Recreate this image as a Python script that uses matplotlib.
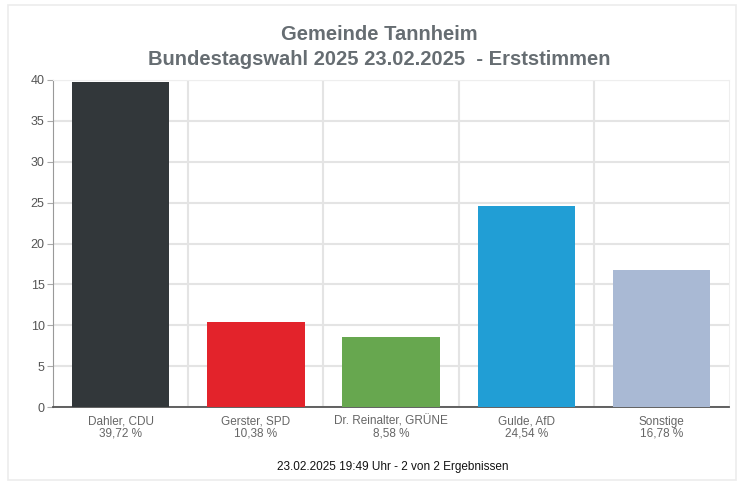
import matplotlib.pyplot as plt
from matplotlib.patches import Rectangle

candidates = ["Dahler, CDU", "Gerster, SPD", "Dr. Reinalter, GRÜNE", "Gulde, AfD", "Sonstige"]
shares = [39.72, 10.38, 8.58, 24.54, 16.78]
share_labels = ["39,72 %", "10,38 %", "8,58 %", "24,54 %", "16,78 %"]
colors = ["#32373a", "#e3232b", "#67a74f", "#219ed5", "#a9b9d4"]
yticks = [0, 5, 10, 15, 20, 25, 30, 35, 40]

fig = plt.figure(figsize=(7.39, 4.9), dpi=100)
fig.patches.append(Rectangle((0.011, 0.02), 0.985, 0.97, transform=fig.transFigure,
                             fill=False, edgecolor="#ececec", linewidth=1.2))
ax = fig.add_axes([0.0717, 0.169, 0.915, 0.668])

x = list(range(len(candidates)))
ax.bar(x, shares, width=0.72, color=colors, zorder=3)

ax.set_xlim(-0.5, len(candidates) - 0.5)
ax.set_ylim(0, 40)
ax.set_yticks(yticks)
ax.set_yticklabels([str(t) for t in yticks], fontsize=9, color="#555555", family="Liberation Sans")
ax.set_xticks([i + 0.5 for i in x[:-1]], minor=True)
ax.set_xticks(x)
ax.set_xticklabels([f"{c}\n{s}" for c, s in zip(candidates, share_labels)],
                   fontsize=8.5, color="#666666", family="Liberation Sans", linespacing=1.0)
ax.tick_params(axis="x", which="major", length=0, pad=6)
ax.tick_params(axis="x", which="minor", length=0)
ax.tick_params(axis="y", length=4, color="#aaaaaa", pad=2)

ax.grid(True, axis="y", color="#e4e4e4", linewidth=1.5, zorder=0)
ax.grid(True, axis="x", which="minor", color="#e4e4e4", linewidth=1.5, zorder=0)

for side in ["top", "right"]:
    ax.spines[side].set_color("#eeeeee")
ax.spines["left"].set_color("#999999")
ax.spines["bottom"].set_color("#555555")
ax.spines["bottom"].set_linewidth(1.3)

fig.text(0.513, 0.929, "Gemeinde Tannheim", ha="center", va="center", fontsize=14.5,
         fontweight="bold", color="#666d72", family="Liberation Sans")
fig.text(0.513, 0.878, "Bundestagswahl 2025 23.02.2025  - Erststimmen", ha="center", va="center",
         fontsize=14.5, fontweight="bold", color="#666d72", family="Liberation Sans")
fig.text(0.531, 0.047, "23.02.2025 19:49 Uhr - 2 von 2 Ergebnissen", ha="center", va="center",
         fontsize=8.5, color="#111111", family="Liberation Sans")

fig.savefig("out.png", dpi=100)
